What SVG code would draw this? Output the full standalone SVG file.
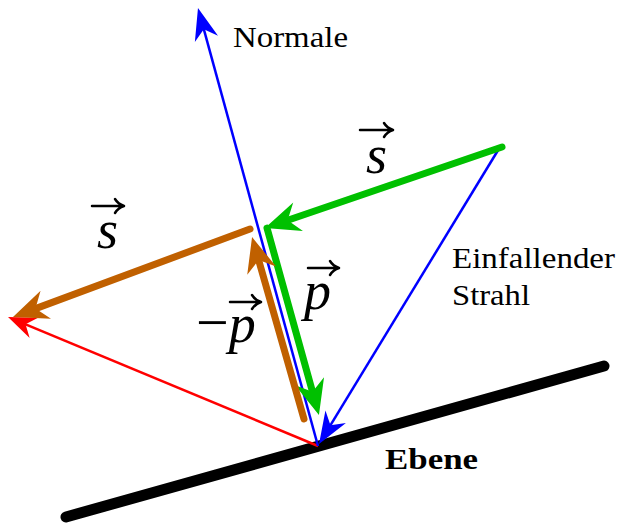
<svg xmlns="http://www.w3.org/2000/svg" width="622" height="524" viewBox="0 0 622 524">
<style>
.lbl{font-family:"Times New Roman","Liberation Serif",Tinos,serif;font-size:30px;fill:#000}
.math{font-family:"Times New Roman","Liberation Serif",Tinos,serif;font-size:54px;font-style:italic;fill:#000}
.up{font-style:normal}
.thick{fill:none;stroke-width:7;stroke-linecap:round}
.thin{fill:none;stroke-width:2.5}
.vec{fill:none;stroke:#000;stroke-width:2.5;stroke-linecap:round;stroke-linejoin:round}
</style>
<defs>
<marker id="ag" markerUnits="userSpaceOnUse" orient="auto" refX="-14" refY="0" markerWidth="40" markerHeight="40" overflow="visible"><path d="M0,0 L-35,-15 L-24,0 L-35,15 Z" fill="#00c000"/></marker>
<marker id="ab" markerUnits="userSpaceOnUse" orient="auto" refX="-14" refY="0" markerWidth="40" markerHeight="40" overflow="visible"><path d="M0,0 L-35,-15 L-24,0 L-35,15 Z" fill="#c06000"/></marker>
<marker id="au" markerUnits="userSpaceOnUse" orient="auto" refX="-8" refY="0" markerWidth="40" markerHeight="40" overflow="visible"><path d="M0,0 L-32,-12 L-22,0 L-32,12 Z" fill="#0000ff"/></marker>
<marker id="ar" markerUnits="userSpaceOnUse" orient="auto" refX="-8" refY="0" markerWidth="40" markerHeight="40" overflow="visible"><path d="M0,0 L-28,-11 L-19,0 L-28,11 Z" fill="#ff0000"/></marker>
</defs>
<rect width="622" height="524" fill="#fff"/>
<g id="ebene-plane">
<line x1="66" y1="517" x2="604" y2="366" stroke="#000" stroke-width="11" stroke-linecap="round"/>
</g>
<g id="connectors">
<line class="thin" stroke="#ff0000" x1="318" y1="446" x2="15.4" y2="320.1" marker-end="url(#ar)"/>
<line class="thin" stroke="#0000ff" x1="318" y1="446" x2="200.1" y2="15.7" marker-end="url(#au)"/>
<line class="thin" stroke="#0000ff" x1="500" y1="147" x2="323.2" y2="437.2" marker-end="url(#au)"/>
<line class="thick" stroke="#00c000" x1="502" y1="147" x2="278.2" y2="223.5" marker-end="url(#ag)"/>
<line class="thick" stroke="#00c000" x1="267" y1="228" x2="315.2" y2="401.5" marker-end="url(#ag)"/>
<line class="thick" stroke="#c06000" x1="304" y1="419" x2="255.9" y2="250.5" marker-end="url(#ab)"/>
<line class="thick" stroke="#c06000" x1="250" y1="229" x2="26.1" y2="312.1" marker-end="url(#ab)"/>
</g>
<g id="label-normale"><text class="lbl" x="233" y="47" textLength="115" lengthAdjust="spacingAndGlyphs">Normale</text></g>
<g id="label-einfallender">
<text class="lbl" x="452" y="268" textLength="163" lengthAdjust="spacingAndGlyphs">Einfallender</text>
<text class="lbl" x="452" y="305" textLength="78" lengthAdjust="spacingAndGlyphs">Strahl</text>
</g>
<g id="label-ebene"><text class="lbl" x="385" y="469" font-weight="bold" textLength="93" lengthAdjust="spacingAndGlyphs">Ebene</text></g>
<g id="math-s-top">
<path class="vec" d="M360,130 H392 M384,123 Q387,128 393,130 Q387,132 384,137"/>
<text class="math" x="366" y="173">s</text>
</g>
<g id="math-s-left">
<path class="vec" d="M92,206 H123 M115,199 Q118,204 124,206 Q118,208 115,213"/>
<text class="math" x="97" y="248">s</text>
</g>
<g id="math-p">
<path class="vec" d="M308,268 H338 M330,261 Q333,266 339,268 Q333,270 330,275"/>
<text class="math" x="304" y="309">p</text>
</g>
<g id="math-minus-p">
<path class="vec" d="M230,302 H260 M252,295 Q255,300 261,302 Q255,304 252,309"/>
<text class="math" x="196" y="342"><tspan class="up" font-size="58">−</tspan>p</text>
</g>
</svg>
